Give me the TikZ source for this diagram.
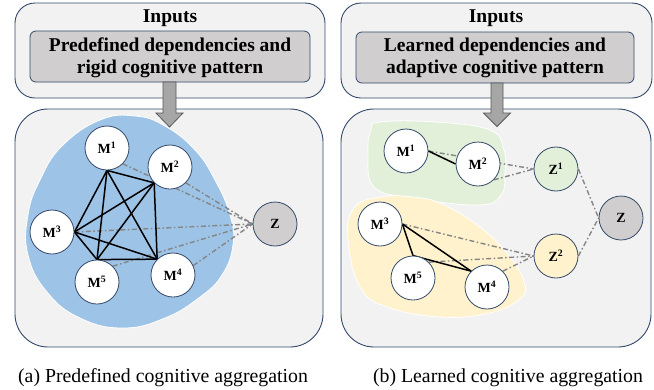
\documentclass[tikz,border=0pt]{standalone}
\usepackage{fontspec}
\setmainfont{Liberation Serif}
\usetikzlibrary{calc}
\pgfdeclarelayer{bg}
\pgfdeclarelayer{edges}
\pgfsetlayers{bg,edges,main}
\definecolor{boxfill}{HTML}{F2F2F2}
\definecolor{boxdraw}{HTML}{34496A}
\definecolor{innerfill}{HTML}{D0CECE}
\definecolor{blueblob}{HTML}{9DC3E6}
\definecolor{greenblob}{HTML}{E2F0D9}
\definecolor{yellowblob}{HTML}{FFF2CC}
\definecolor{zgrey}{HTML}{D0CECE}
\definecolor{ddgrey}{HTML}{858585}
\definecolor{arrowfill}{HTML}{A6A6A6}
\definecolor{arrowdraw}{HTML}{595959}
\tikzset{
  outerbox/.style={draw=boxdraw, fill=boxfill, line width=0.9pt},
  innerbox/.style={draw=boxdraw, fill=innerfill, line width=0.8pt, rounded corners=6pt},
  mnode/.style={circle, draw=boxdraw, fill=white, line width=0.8pt, minimum size=44pt, inner sep=0pt,
    font=\fontsize{14}{16}\selectfont\bfseries},
  headtext/.style={font=\fontsize{19.5}{22}\selectfont\bfseries, align=center, inner sep=0pt},
  captext/.style={font=\fontsize{19.8}{22}\selectfont, inner sep=0pt, anchor=base},
  dd/.style={draw=ddgrey, line width=1.4pt, dash pattern=on 5pt off 2.5pt on 1.5pt off 2.5pt},
  solidedge/.style={draw=black, line width=1.5pt},
  blob/.style={draw=white, line width=0.8pt},
  bigarrow/.style={fill=arrowfill, draw=arrowdraw, line width=0.8pt, line join=miter}
}
\begin{document}
\begin{tikzpicture}[x=1pt,y=-1pt]
\useasboundingbox (0,0) rectangle (654,389);

% ---------- backgrounds ----------
\begin{pgfonlayer}{bg}
  % top boxes
  \draw[outerbox, rounded corners=20pt] (15,3) rectangle (325,98);
  \draw[outerbox, rounded corners=20pt] (341,3) rectangle (652,98);
  \draw[innerbox] (30,31) rectangle (310,82);
  \draw[innerbox] (356,32) rectangle (634,83);
  % bottom boxes
  \draw[outerbox, rounded corners=33pt] (15,109) rectangle (323,347);
  \draw[outerbox, rounded corners=33pt] (341,109) rectangle (651,347);
  % blue blob
  \draw[blob, fill=blueblob] plot[smooth cycle, tension=0.75] coordinates {
    (100,120) (135,116) (165,126) (195,150) (215,180) (230,215) (233,245)
    (222,275) (200,297) (165,318) (123,328) (80,318) (47,292) (28,255)
    (28,215) (40,180) (62,146)};
  % green blob
  \draw[blob, fill=greenblob] plot[smooth cycle, tension=0.7] coordinates {
    (380,122) (435,122) (490,130) (504,150) (505,172) (501,195) (478,205)
    (413,198) (374,187) (368,152) (371,130)};
  % yellow blob
  \draw[blob, fill=yellowblob] plot[smooth cycle, tension=0.7] coordinates {
    (380,197) (413,197) (442,204) (480,227) (510,257) (524,282) (521,298)
    (490,313) (440,317) (387,307) (360,287) (348,240) (354,208)};
\end{pgfonlayer}

% ---------- texts ----------
\node[headtext, anchor=base] (in1) at (170,22) {Inputs};
\node[headtext, anchor=base] (in2) at (496,22) {Inputs};
\node[headtext] (t1) at (170,57.5) {Predefined dependencies and\\rigid cognitive pattern};
\node[headtext] (t2) at (495,58) {Learned dependencies and\\adaptive cognitive pattern};

% ---------- arrows ----------
\draw[bigarrow] (163,82) -- (176,82) -- (176,113) -- (183,113) -- (169.5,127)
  -- (156,113) -- (163,113) -- cycle;
\draw[bigarrow] (491,83) -- (503,83) -- (503,113) -- (510.5,113) -- (497,126.5)
  -- (483.5,113) -- (491,113) -- cycle;

% ---------- left nodes ----------
\node[mnode] (aM1) at (107,148) {M\textsuperscript{1}};
\node[mnode] (aM2) at (170,167) {M\textsuperscript{2}};
\node[mnode] (aM3) at (52,232) {M\textsuperscript{3}};
\node[mnode] (aM5) at (97,282) {M\textsuperscript{5}};
\node[mnode] (aM4) at (173,275) {M\textsuperscript{4}};
\node[mnode, fill=zgrey] (aZ) at (275,224) {Z};

% ---------- right nodes ----------
\node[mnode] (bM1) at (406,151) {M\textsuperscript{1}};
\node[mnode] (bM2) at (478,164) {M\textsuperscript{2}};
\node[mnode] (bM3) at (380,224) {M\textsuperscript{3}};
\node[mnode] (bM5) at (413,278) {M\textsuperscript{5}};
\node[mnode] (bM4) at (487,287) {M\textsuperscript{4}};
\node[mnode, fill=greenblob] (bZ1) at (556,169) {Z\textsuperscript{1}};
\node[mnode, fill=yellowblob] (bZ2) at (556,256) {Z\textsuperscript{2}};
\node[mnode, fill=zgrey] (bZ) at (621,218) {Z};

% ---------- edges ----------
\begin{pgfonlayer}{edges}
  % left dash-dot
  \draw[dd] (aM1.south east) -- (aZ.west);
  \draw[dd] (aM2.south east) -- (aZ.west);
  \draw[dd] (aM3.east) -- (aZ.west);
  \draw[dd] (aM5.north east) -- (aZ.west);
  \draw[dd] (aM4.25) -- (aZ.west);
  % left complete graph
  \draw[solidedge] (aM1.south) -- (aM2.south west);
  \draw[solidedge] (aM1.south) -- (aM3.east);
  \draw[solidedge] (aM1.south) -- (aM5.north);
  \draw[solidedge] (aM1.south) -- (aM4.north west);
  \draw[solidedge] (aM2.south west) -- (aM3.east);
  \draw[solidedge] (aM2.south west) -- (aM5.north);
  \draw[solidedge] (aM2.south west) -- (aM4.north west);
  \draw[solidedge] (aM3.east) -- (aM5.north);
  \draw[solidedge] (aM3.east) -- (aM4.north west);
  \draw[solidedge] (aM5.north) -- (aM4.north west);
  % right dash-dot
  \draw[dd] (bM1.east) -- (bZ1.west);
  \draw[dd] (bM2.south east) -- (bZ1.west);
  \draw[dd] (bM3.east) -- (bZ2.west);
  \draw[dd] (bM5.north east) -- (bZ2.west);
  \draw[dd] (bM4.north east) -- (bZ2.west);
  \draw[dd] (bZ1.east) -- (bZ.west);
  \draw[dd] (bZ2.east) -- (bZ.west);
  % right solid
  \draw[solidedge] (bM1.east) -- (bM2.west);
  \draw[solidedge] (bM3.east) -- (bM5.north);
  \draw[solidedge] (bM3.east) -- (bM4.north west);
  \draw[solidedge] (bM5.north) -- (bM4.north west);
\end{pgfonlayer}

% ---------- captions ----------
\node[captext] (capa) at (163,382) {(a) Predefined cognitive aggregation};
\node[captext] (capb) at (508,382) {(b) Learned cognitive aggregation};
\end{tikzpicture}
\end{document}
